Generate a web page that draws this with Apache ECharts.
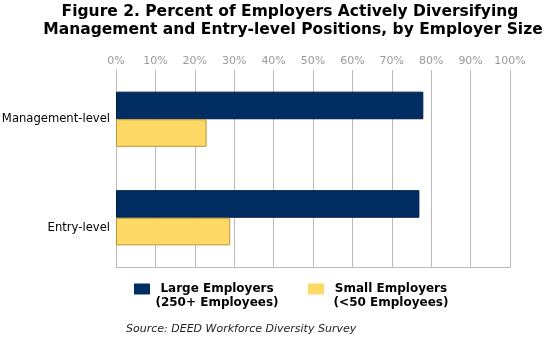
<!DOCTYPE html>
<html><head><meta charset="utf-8">
<script src="https://cdn.jsdelivr.net/npm/echarts@6/dist/echarts.min.js"></script>
<style>html,body{margin:0;padding:0;background:#fff}#c{width:544px;height:337px}</style>
</head><body><div id="c"></div>
<script>
var categories = ['Management-level', 'Entry-level'];
var largeEmployers = [78, 77];
var smallEmployers = [23, 29];
var seriesNames = ['Large Employers', 'Small Employers'];
var seriesSubNames = ['(250+ Employees)', '(<50 Employees)'];
var titleLines = ['Figure 2. Percent of Employers Actively Diversifying', 'Management and Entry-level Positions, by Employer Size'];
var sourceText = 'Source: DEED Workforce Diversity Survey';

var FONT = 'Verdana, "DejaVu Sans", sans-serif';
var chart = echarts.init(document.getElementById('c'), null, {renderer: 'canvas'});
chart.setOption({
  animation: false,
  backgroundColor: '#fff',
  title: [
    {text: titleLines[0], left: 290, top: 4, padding: 0, textAlign: 'center', textStyle: {fontFamily: FONT, fontWeight: 'bold', fontSize: 15.5, color: '#000'}},
    {text: titleLines[1], left: 293, top: 22, padding: 0, textAlign: 'center', textStyle: {fontFamily: FONT, fontWeight: 'bold', fontSize: 15.5, color: '#000'}},
    {text: sourceText, left: 126, top: 324, padding: 0, textStyle: {fontFamily: FONT, fontStyle: 'italic', fontWeight: 'normal', fontSize: 11, color: '#222'}}
  ],
  legend: {
    left: 134, top: 283, padding: 0, itemWidth: 16, itemHeight: 11, itemGap: 29,
    icon: 'rect',
    formatter: function (name) {
      var i = seriesNames.indexOf(name);
      return '{a|' + name + '}\n{a|' + seriesSubNames[i] + '}';
    },
    textStyle: {
      fontFamily: FONT, fontWeight: 'bold', fontSize: 12, color: '#000', padding: [14, 0, 0, 0],
      rich: {a: {fontFamily: FONT, fontWeight: 'bold', fontSize: 12, color: '#000', lineHeight: 14, width: 124, align: 'center'}}
    },
    itemStyle: {borderWidth: 0},
    data: seriesNames
  },
  grid: {left: 116, right: 34, top: 70, bottom: 70, containLabel: false, outerBoundsMode: 'none'},
  xAxis: [{
    type: 'value', position: 'top', min: 0, max: 100, interval: 10,
    axisLine: {show: false}, axisTick: {show: false},
    axisLabel: {formatter: '{value}%', color: '#9a9a9a', fontFamily: FONT, fontSize: 11, margin: 3},
    splitLine: {show: true, lineStyle: {color: '#bbb', width: 1}}
  }, {
    type: 'value', position: 'bottom', min: 0, max: 100, interval: 10,
    axisLine: {show: true, onZero: false, lineStyle: {color: '#bbb', width: 1}}, axisTick: {show: false},
    axisLabel: {show: false}, splitLine: {show: false}
  }],
  yAxis: {
    type: 'category', inverse: true, data: categories,
    axisLine: {show: true, lineStyle: {color: '#bbb', width: 1}},
    axisTick: {show: false},
    axisLabel: {
      color: '#000', fontFamily: FONT, fontSize: 11.6, margin: 6,
      formatter: function (v, i) { return i === 1 ? '{b|' + v + '}' : '{a|' + v + '}'; },
      rich: {
        a: {color: '#000', fontFamily: FONT, fontSize: 11.6},
        b: {color: '#000', fontFamily: FONT, fontSize: 11.6, padding: [20, 0, 0, 0]}
      }
    }
  },
  series: [
    {name: seriesNames[0], type: 'bar', xAxisIndex: 0, data: largeEmployers, barGap: '0%', barCategoryGap: '44%',
     itemStyle: {color: '#002D62', borderColor: '#001E45', borderWidth: 1}},
    {name: seriesNames[1], type: 'bar', xAxisIndex: 0, data: smallEmployers, barGap: '0%', barCategoryGap: '44%',
     itemStyle: {color: '#FFD966', borderColor: '#B8963A', borderWidth: 1}}
  ]
});
</script></body></html>
